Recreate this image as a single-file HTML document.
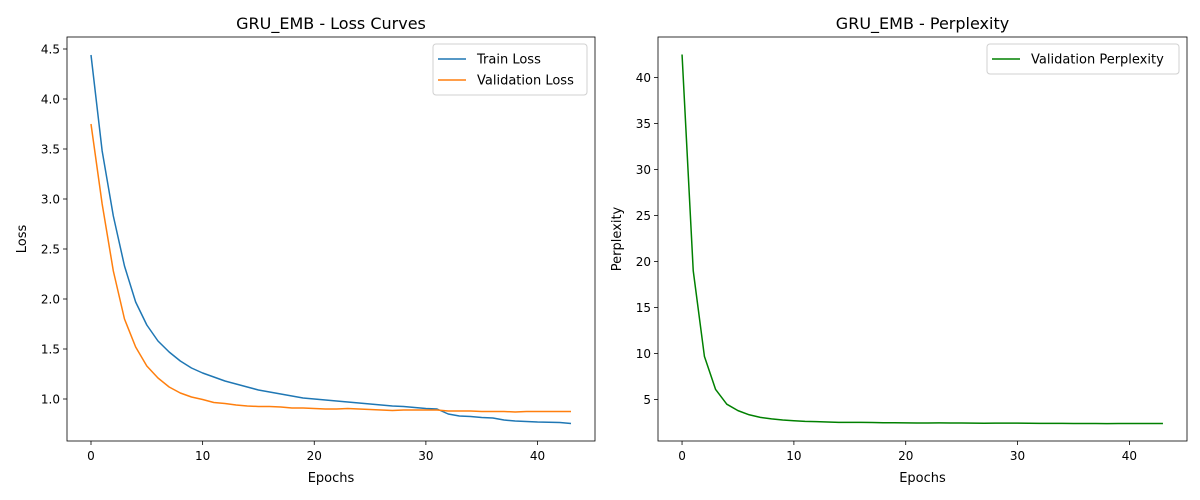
<!DOCTYPE html>
<html><head><meta charset="utf-8"><style>
html,body{margin:0;padding:0;background:#fff}
svg{display:block;font-family:"DejaVu Sans","Liberation Sans",sans-serif}
</style></head><body>
<svg id="fig" width="1200" height="500"></svg>
<script>
const epochs = Array.from({length:44},(_,i)=>i);
const trainLoss = [4.44,3.48,2.83,2.33,1.97,1.74,1.58,1.47,1.38,1.31,1.26,1.22,1.18,1.15,1.12,1.09,1.07,1.05,1.03,1.01,1.00,0.99,0.98,0.97,0.96,0.95,0.94,0.93,0.925,0.915,0.905,0.90,0.85,0.83,0.825,0.815,0.81,0.79,0.78,0.775,0.77,0.768,0.765,0.755];
const valLoss = [3.75,2.95,2.28,1.80,1.52,1.33,1.21,1.12,1.06,1.02,0.995,0.965,0.955,0.94,0.93,0.925,0.925,0.92,0.91,0.91,0.905,0.90,0.90,0.905,0.90,0.895,0.89,0.885,0.89,0.89,0.89,0.89,0.88,0.88,0.88,0.875,0.875,0.875,0.87,0.875,0.875,0.875,0.875,0.875];
const valPpl = [42.5,19.0,9.7,6.1,4.5,3.8,3.35,3.07,2.9,2.78,2.7,2.63,2.6,2.56,2.53,2.52,2.52,2.51,2.49,2.48,2.47,2.46,2.46,2.47,2.46,2.45,2.44,2.43,2.44,2.44,2.44,2.43,2.41,2.41,2.41,2.40,2.40,2.40,2.39,2.40,2.40,2.40,2.40,2.40];
const xTicks = [0,10,20,30,40];
const lossTicks = [1.0,1.5,2.0,2.5,3.0,3.5,4.0,4.5];
const pplTicks = [5,10,15,20,25,30,35,40];

const NS="http://www.w3.org/2000/svg";
const svg=document.getElementById('fig');
function el(tag,attrs,parent){const e=document.createElementNS(NS,tag);for(const k in attrs)e.setAttribute(k,attrs[k]);(parent||svg).appendChild(e);return e;}

function panel(cfg){
  const g=el('g',{});
  
  
  const {x0,x1,y0,y1}=cfg;
  const sx=v=>x0+(v-cfg.xmin)/(cfg.xmax-cfg.xmin)*(x1-x0);
  const sy=v=>y1-(v-cfg.ymin)/(cfg.ymax-cfg.ymin)*(y1-y0);
  xTicks.forEach(t=>{
    const l=el('line',{x1:sx(t),x2:sx(t),y1:y1,y2:y1+4,stroke:'#000','stroke-width':0.8},g);
    
    
    const tx=el('text',{x:sx(t),y:y1+19,'text-anchor':'middle','font-size':12,fill:'#000'},g);
    
    
    tx.textContent=t;
  });
  cfg.yticks.forEach(t=>{
    const l=el('line',{x1:x0-4,x2:x0,y1:sy(t),y2:sy(t),stroke:'#000','stroke-width':0.8},g);
    
    
    const tx=el('text',{x:x0-7,y:sy(t)+4.3,'text-anchor':'end','font-size':12,fill:'#000'},g);
    
    
    tx.textContent=cfg.fmt(t);
  });
  cfg.series.forEach(s=>{
    const d=s.data.map((v,i)=>(i?'L':'M')+sx(epochs[i]).toFixed(2)+' '+sy(v).toFixed(2)).join(' ');
    const p=el('path',{d:d,fill:'none',stroke:s.color,'stroke-width':1.5,'stroke-linejoin':'round'},g);
    
    
  });
  const fr=el('rect',{x:x0,y:y0,width:x1-x0,height:y1-y0,fill:'none',stroke:'#000','stroke-width':0.8},g);
  
  
  const ti=el('text',{x:(x0+x1)/2,y:y0-8,'text-anchor':'middle','font-size':16,fill:'#000'},g);
  
  
  ti.textContent=cfg.title;
  const xl=el('text',{x:(x0+x1)/2,y:482,'text-anchor':'middle','font-size':13,fill:'#000'},g);
  
  
  xl.textContent='Epochs';
  const yl=el('text',{x:0,y:0,'text-anchor':'middle','font-size':13,fill:'#000',transform:`translate(${cfg.ylx},${(y0+y1)/2}) rotate(-90)`},g);
  
  
  yl.textContent=cfg.ylabel;
  const lg=el('g',{},g);
  
  
  const lw=cfg.legW, lh=cfg.series.length*21+9;
  el('rect',{x:x1-8-lw,y:y0+7,width:lw,height:lh,rx:3,fill:'#fff',stroke:'#ccc','stroke-width':1,opacity:0.9},lg);
  cfg.series.forEach((s,i)=>{
    const yy=y0+7+15+i*21;
    const ln=el('line',{x1:x1-8-lw+5,x2:x1-8-lw+33,y1:yy,y2:yy,stroke:s.color,'stroke-width':1.5},lg);
    
    
    const t=el('text',{x:x1-8-lw+44,y:yy+4.5,'font-size':13,fill:'#000'},lg);
    
    
    t.textContent=s.label;
  });
}

panel({name:'loss-chart',x0:67,x1:595,y0:37,y1:441,xmin:-2.15,xmax:45.15,ymin:0.58,ymax:4.62,
  yticks:lossTicks,fmt:v=>v.toFixed(1),title:'GRU_EMB - Loss Curves',ylabel:'Loss',ylx:26,legW:154,
  series:[{id:'train-loss-line',label:'Train Loss',color:'#1f77b4',data:trainLoss},
          {id:'validation-loss-line',label:'Validation Loss',color:'#ff7f0e',data:valLoss}]});
panel({name:'perplexity-chart',x0:658,x1:1187,y0:37,y1:441,xmin:-2.15,xmax:45.15,ymin:0.5,ymax:44.4,
  yticks:pplTicks,fmt:v=>String(v),title:'GRU_EMB - Perplexity',ylabel:'Perplexity',ylx:621,legW:192,
  series:[{id:'validation-perplexity-line',label:'Validation Perplexity',color:'#008000',data:valPpl}]});
</script>
</body></html>
